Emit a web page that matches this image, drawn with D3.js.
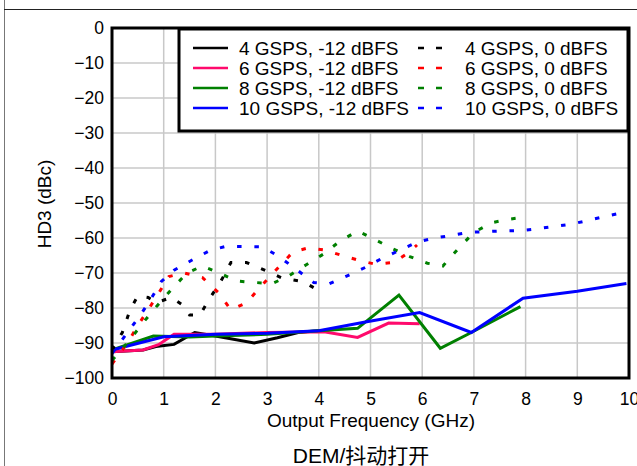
<!DOCTYPE html>
<html><head><meta charset="utf-8">
<script src="https://cdn.jsdelivr.net/npm/d3@7"></script>
<style>
html,body{margin:0;padding:0;background:#fff;}
svg{display:block;font-family:"Liberation Sans",Arial,sans-serif;}
</style></head>
<body>
<svg id="chart" width="637" height="466"></svg>
<script>
// ---- data ----
const xTicks = [0,1,2,3,4,5,6,7,8,9,10];
const yTicks = [0,-10,-20,-30,-40,-50,-60,-70,-80,-90,-100];

const gsps4_m12 = [[0,-92.5],[0.6,-92],[0.85,-91],[1.2,-90.4],[1.6,-87],[2.0,-88],[2.75,-90],[3.2,-88.5],[3.6,-87],[4.0,-86.5]];
const gsps6_m12 = [[0,-92.5],[0.6,-92],[0.9,-90.5],[1.2,-87.5],[2,-87.5],[3,-87],[4.1,-86.8],[4.75,-88.4],[5.35,-84.3],[5.95,-84.5]];
const gsps8_m12 = [[0,-92],[0.8,-88],[1.5,-88.3],[2,-88],[3,-87.5],[4,-86.5],[4.75,-85.8],[5.55,-76.3],[6.35,-91.5],[6.95,-87],[7.9,-79.6]];
const gsps10_m12 = [[0,-92],[1,-88.2],[2,-87.5],[3,-87.2],[4,-86.5],[4.9,-84],[5.95,-81.3],[6.95,-87],[7.95,-77.2],[9,-75.2],[9.95,-73]];

const gsps4_0 = [[0,-92],[0.2,-87],[0.35,-80.5],[0.5,-76.5],[0.7,-77],[0.85,-78.5],[1.15,-77],[1.35,-79],[1.5,-82],[1.7,-82],[1.9,-77],[2.1,-72.5],[2.3,-67],[2.6,-67],[3.0,-69.5],[3.3,-71.5],[3.7,-72.5],[4.0,-75]];
const gsps6_0 = [[0,-96],[0.3,-90],[0.5,-85],[0.7,-80.5],[0.9,-75.8],[1.1,-71],[1.4,-70],[1.75,-71.3],[2.05,-75.5],[2.3,-80.5],[2.6,-78.5],[2.9,-73.5],[3.2,-68.7],[3.5,-64],[3.8,-62.8],[4.1,-63.4],[4.45,-65],[4.8,-66.5],[5.1,-67.5],[5.45,-67],[5.75,-64],[5.9,-62]];
const gsps8_0 = [[0,-95],[0.35,-89],[0.6,-84.2],[0.87,-79.4],[1.15,-74.7],[1.45,-70],[1.75,-68],[2.08,-70],[2.4,-72.3],[2.75,-72.7],[3.1,-73],[3.4,-71],[3.75,-67.7],[4.1,-64.5],[4.4,-61],[4.75,-58],[5.08,-60.4],[5.42,-63],[5.76,-65.3],[6.1,-67.2],[6.4,-68],[6.7,-63],[7.0,-58.4],[7.35,-55.6],[7.65,-54.7],[8.0,-54]];
const gsps10_0 = [[0,-93],[0.3,-87],[0.55,-82],[0.75,-77.5],[0.95,-72.5],[1.2,-69.2],[1.55,-66.3],[1.9,-63.5],[2.2,-62.4],[2.9,-62.5],[3.2,-65],[3.55,-68.8],[3.9,-72.7],[4.2,-73.1],[4.55,-70.8],[4.9,-68.4],[5.2,-66],[5.55,-63.6],[5.9,-61.2],[6.2,-60.1],[6.55,-59.3],[6.9,-58.4],[7.5,-58],[7.9,-57.9],[8.2,-57.4],[8.55,-56.7],[8.9,-56],[9.2,-55],[9.55,-53.8],[9.95,-52.5]];

const seriesNames = ["4 GSPS, -12 dBFS","6 GSPS, -12 dBFS","8 GSPS, -12 dBFS","10 GSPS, -12 dBFS",
                     "4 GSPS, 0 dBFS","6 GSPS, 0 dBFS","8 GSPS, 0 dBFS","10 GSPS, 0 dBFS"];
const seriesData = [gsps4_m12,gsps6_m12,gsps8_m12,gsps10_m12,gsps4_0,gsps6_0,gsps8_0,gsps10_0];
const solidColors = ["#000000","#ff0a6c","#008000","#0000ff"];
const dashColors = ["#000000","#ff0000","#008000","#0000ff"];

// ---- layout ----
const svg = d3.select("#chart");
const L = 112, R = 629, T = 28, B = 378;
const x = d3.scaleLinear().domain([0,10]).range([L,R]);
const y = d3.scaleLinear().domain([-100,0]).range([B,T]);

// page frame
svg.append("line").attr("x1",4.5).attr("x2",4.5).attr("y1",0).attr("y2",466).attr("stroke","#777").attr("stroke-width",1);
svg.append("line").attr("x1",4).attr("x2",637).attr("y1",9.5).attr("y2",9.5).attr("stroke","#222").attr("stroke-width",1);

// grid
const grid = svg.append("g");
grid.selectAll("line.v").data(xTicks).join("line")
  .attr("x1",d=>x(d)).attr("x2",d=>x(d)).attr("y1",T).attr("y2",B)
  .attr("stroke","#c8c8c8").attr("stroke-width",1.5);
grid.selectAll("line.h").data(yTicks).join("line")
  .attr("x1",L).attr("x2",R).attr("y1",d=>y(d)).attr("y2",d=>y(d))
  .attr("stroke","#c8c8c8").attr("stroke-width",1.5);

// axes labels via d3 axes
const xAxis = svg.append("g").attr("transform",`translate(0,${B})`)
  .call(d3.axisBottom(x).tickValues(xTicks).tickSize(0).tickPadding(15).tickFormat(d3.format("d")));
xAxis.select(".domain").remove();
xAxis.selectAll("text").attr("font-size",17.5).attr("fill","#000").attr("font-family","Liberation Sans, Arial, sans-serif");
const yAxis = svg.append("g").attr("transform",`translate(${L},0)`)
  .call(d3.axisLeft(y).tickValues(yTicks).tickSize(0).tickPadding(8).tickFormat(d3.format("d")));
yAxis.select(".domain").remove();
yAxis.selectAll("text").attr("font-size",17.5).attr("fill","#000").attr("font-family","Liberation Sans, Arial, sans-serif");

// lines
const line = d3.line().x(d=>x(d[0])).y(d=>y(d[1]));
const plot = svg.append("g");
seriesData.forEach((s,i)=>{
  const dashed = i>=4;
  plot.append("path").datum(s).attr("d",line).attr("fill","none")
    .attr("stroke", dashed ? dashColors[i-4] : solidColors[i])
    .attr("stroke-width", 3)
    .attr("stroke-dasharray", dashed ? "4.5,12.8" : null);
});

// plot frame
svg.append("rect").attr("x",L).attr("y",T).attr("width",R-L).attr("height",B-T)
  .attr("fill","none").attr("stroke","#000").attr("stroke-width",3);

// legend
const lg = svg.append("g");
lg.append("rect").attr("x",179).attr("y",29).attr("width",449).attr("height",102)
  .attr("fill","#fff").attr("stroke","#000").attr("stroke-width",3);
for (let r=0;r<4;r++){
  const yy = 48 + r*20;
  lg.append("line").attr("x1",193).attr("x2",228).attr("y1",yy).attr("y2",yy)
    .attr("stroke",solidColors[r]).attr("stroke-width",2.5);
  lg.append("text").attr("x",239).attr("y",yy+7).attr("font-size",19).text(seriesNames[r]);
  lg.append("line").attr("x1",418).attr("x2",444).attr("y1",yy).attr("y2",yy)
    .attr("stroke",dashColors[r]).attr("stroke-width",2.5).attr("stroke-dasharray","6,12");
  lg.append("text").attr("x",465).attr("y",yy+7).attr("font-size",19).text(seriesNames[r+4]);
}

// axis titles
svg.append("text").attr("x",371).attr("y",427).attr("text-anchor","middle").attr("font-size",19).text("Output Frequency (GHz)");
svg.append("text").attr("transform","translate(51,204) rotate(-90)").attr("text-anchor","middle").attr("font-size",19).text("HD3 (dBc)");
svg.append("text").attr("x",361).attr("y",463).attr("text-anchor","middle").attr("font-size",21)
  .attr("font-family","Liberation Sans, 'Noto Sans CJK SC', sans-serif").text("DEM/抖动打开");
</script>
</body></html>
